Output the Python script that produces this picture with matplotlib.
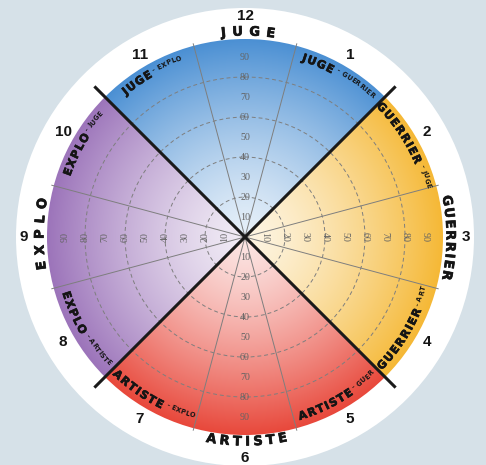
import numpy as np
import matplotlib
matplotlib.use('Agg')
import matplotlib.pyplot as plt
import matplotlib.patheffects as pe
from matplotlib.patches import Circle
from matplotlib.font_manager import FontProperties, findfont, get_font

# ---------------- data ----------------
quadrant_names = ['JUGE', 'GUERRIER', 'ARTISTE', 'EXPLO']
quadrant_colors = ['#4a8fd3', '#f5b835', '#e8483b', '#9c74ba']
sector_numbers = [12, 1, 2, 3, 4, 5, 6, 7, 8, 9, 10, 11]
sector_main = ['', 'JUGE', 'GUERRIER', '', 'GUERRIER', 'ARTISTE', '',
               'ARTISTE', 'EXPLO', '', 'EXPLO', 'JUGE']
sector_sub = ['', 'GUERRIER', 'JUGE', '', 'ART', 'GUER', '',
              'EXPLO', 'ARTISTE', '', 'JUGE', 'EXPLO']
scale_values = [10, 20, 30, 40, 50, 60, 70, 80, 90]
grid_values = [20, 40, 60, 80]
scale_max = 100

# ---------------- layout ----------------
W, H, DPI = 486, 465, 100
cx, cy = 245, 237
R_disk = 198
R_white = 229
px_per_unit = 2.0
INK = '#151515'

fig = plt.figure(figsize=(W / DPI, H / DPI), dpi=DPI, facecolor='#d6e1e8')
ax = fig.add_axes([0, 0, 1, 1])
ax.set_xlim(0, W)
ax.set_ylim(H, 0)
ax.set_aspect('equal')
ax.axis('off')


def pol(phi, r):
    a = np.radians(phi)
    return cx + r * np.sin(a), cy - r * np.cos(a)


# white outer disk
ax.add_patch(Circle((cx, cy), R_white, fc='white', ec='none', zorder=1))

# gradient quadrants
N = 600
xs = np.linspace(cx - R_disk, cx + R_disk, N)
ys = np.linspace(cy - R_disk, cy + R_disk, N)
X, Y = np.meshgrid(xs, ys)
dx, up = X - cx, cy - Y
rr = np.hypot(dx, up) / R_disk
phi = np.degrees(np.arctan2(dx, up)) % 360
q = (((phi + 45) % 360) // 90).astype(int)
edge = np.array([matplotlib.colors.to_rgb(c) for c in quadrant_colors])
t = 0.14 + 0.86 * np.clip(rr, 0, 1) ** 1.35
img = np.ones((N, N, 3)) * (1 - t[..., None]) + edge[q] * t[..., None]
im = ax.imshow(img, extent=(cx - R_disk, cx + R_disk, cy + R_disk, cy - R_disk),
               origin='upper', zorder=2, interpolation='bilinear')
clip = Circle((cx, cy), R_disk, transform=ax.transData)
im.set_clip_path(clip)

# dashed grid circles
for v in grid_values:
    ax.add_patch(Circle((cx, cy), v * px_per_unit, fill=False, ec='#7e7e7e',
                        lw=0.7, ls=(0, (4, 3)), zorder=3))

# thin spokes
for k in range(12):
    a = 30 * k + 15
    if a % 90 == 45:
        continue
    x1, y1 = pol(a, R_disk + 2)
    ax.plot([cx, x1], [cy, y1], color='#7e7e7e', lw=0.7, zorder=3)

# black quadrant dividers
for a in [45, 135, 225, 315]:
    x1, y1 = pol(a, 213)
    ax.plot([cx, x1], [cy, y1], color='#1a1a1a', lw=2.2, zorder=4,
            solid_capstyle='butt')

# scale labels
for v in scale_values:
    r = v * px_per_unit
    for a, rot in [(0, 0), (90, -90), (180, 0), (270, 90)]:
        x, y = pol(a, r)
        ax.text(x, y, str(v), family='Liberation Serif', size=7.2,
                color='#636363', ha='center', va='center', rotation=rot,
                rotation_mode='anchor', zorder=5)


def char_adv(ch, fp):
    font = get_font(findfont(fp))
    font.set_size(fp.get_size_in_points(), 72)
    g = font.load_char(ord(ch))
    return g.linearHoriAdvance / 65536 * DPI / 72


def arc_text(segments, phi_c, r, cw):
    chars = []
    for txt, fs, dr, track, stroke in segments:
        fp = FontProperties(family='DejaVu Sans', weight='bold', size=fs)
        for ch in txt:
            chars.append((ch, fp, char_adv(ch, fp) + track, dr, stroke))
    total = sum(c[2] for c in chars) - segments[-1][3]
    sgn = 1 if cw else -1
    start = phi_c - sgn * np.degrees(total / r) / 2
    s = 0
    for ch, fp, w, dr, stroke in chars:
        a = start + sgn * np.degrees((s + w / 2) / r)
        s += w
        rc = r + dr if cw else r - dr
        x, y = pol(a, rc)
        rot = -a if cw else 180 - a
        if ch != ' ':
            txt = ax.text(x, y, ch, fontproperties=fp, rotation=rot,
                          rotation_mode='anchor', ha='center', va='center',
                          color=INK, zorder=6)
            if stroke:
                txt.set_path_effects([pe.withStroke(linewidth=stroke,
                                                    foreground=INK)])


# cardinal names in white band
card_track = {'JUGE': 6.4, 'GUERRIER': 1.6, 'ARTISTE': 3.4, 'EXPLO': 6.0}
for i, name in enumerate(quadrant_names):
    a = 90 * i
    cw = a in (0, 90, 270)
    arc_text([(name, 9.4, 0, card_track[name], 0.45)], a, 205, cw)

# inner sector labels
for k, (m, s) in enumerate(zip(sector_main, sector_sub)):
    if not m:
        continue
    a = 30 * k
    cw = not (90 < a < 270)
    arc_text([(m, 8.0, 0, 1.2, 0.45), (' - ', 4.8, 2.2, 0.0, 0),
              (s, 4.8, 2.2, 0.3, 0)], a, 188, cw)

# sector numbers
for k, n in enumerate(sector_numbers):
    a = 30 * k
    r = 221 if k % 3 == 0 else 210
    x, y = pol(a, r)
    ax.text(x, y, str(n), family='Liberation Sans', weight='bold', size=11,
            color=INK, ha='center', va='center', zorder=6)

fig.savefig('out.png', dpi=DPI, facecolor=fig.get_facecolor())
